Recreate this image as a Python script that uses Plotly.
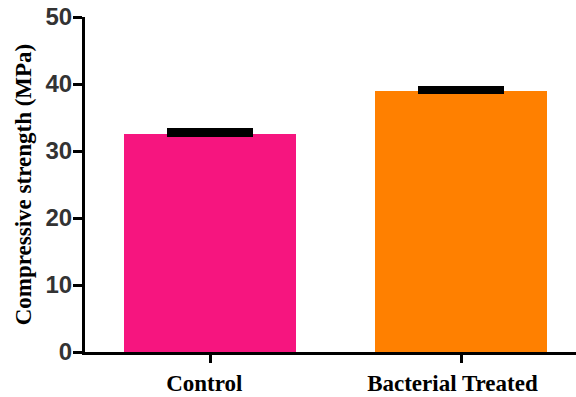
import plotly.graph_objects as go

categories = ["Control", "Bacterial Treated"]
tick_labels = ["Control\u00a0\u00a0", "Bacterial Treated\u00a0\u00a0\u00a0"]
values = [32.6, 38.95]
errors = [0.45, 0.33]
colors = ["#F6157F", "#FF8000"]
y_ticks = [0, 10, 20, 30, 40, 50]

fig = go.Figure()
fig.add_trace(go.Bar(
    x=categories,
    y=values,
    width=0.685,
    marker=dict(color=colors, line=dict(width=0)),
    error_y=dict(type="data", array=errors, arrayminus=[0, 0], symmetric=False,
                 color="black", thickness=6, width=43),
))

fig.update_layout(
    width=576, height=397,
    margin=dict(l=85, r=0, t=17, b=45),
    paper_bgcolor="white", plot_bgcolor="white",
    showlegend=False,
    bargap=0,
)
fig.update_xaxes(
    range=[-0.498, 1.458], automargin=False,
    tickvals=categories, ticktext=tick_labels,
    showline=True, linecolor="black", linewidth=3,
    ticks="outside", ticklen=8, tickwidth=3, tickcolor="black",
    ticklabelstandoff=0,
    tickfont=dict(family="Liberation Serif, Times New Roman", size=23, color="black", weight="bold"),
    showgrid=False, zeroline=False,
)
fig.update_yaxes(
    range=[0, 50], tickvals=y_ticks, automargin=False,
    showline=True, linecolor="black", linewidth=3,
    ticks="outside", ticklen=9, tickwidth=3, tickcolor="black",
    ticklabelstandoff=-4,
    tickfont=dict(family="Liberation Sans, Arial", size=24, color="#333333", weight="bold"),
    showgrid=False, zeroline=False,
    title=dict(text="Compressive strength (MPa)", standoff=8,
               font=dict(family="Liberation Serif, Times New Roman", size=23, color="black", weight="bold")),
)

fig.write_html("out.html")
